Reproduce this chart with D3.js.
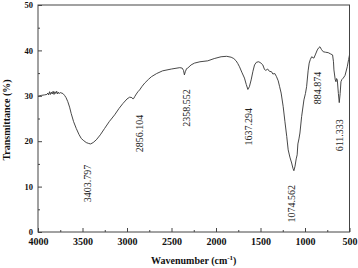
<!DOCTYPE html>
<html>
<head>
<meta charset="utf-8">
<script src="https://cdn.jsdelivr.net/npm/d3@7"></script>
<style>
    body { margin: 0; background: #fff; }
    svg { display: block; }
</style>
</head>
<body>
<svg class="ftir-chart" width="358" height="268"></svg>
<script>
// Spectrum (wavenumber cm-1, transmittance %)
const wavenumbers = [
    4000, 3960, 3927, 3900, 3890, 3880, 3870, 3860, 3850, 3840, 3830, 3820, 3810, 3800,
    3790, 3780, 3770, 3760, 3750, 3720, 3702, 3685, 3665, 3645, 3627, 3600, 3570, 3540,
    3514, 3485, 3458, 3430, 3409, 3380, 3345, 3300, 3252, 3200, 3139, 3090, 3046, 3000,
    2970, 2945, 2933, 2925, 2914, 2895, 2877, 2858, 2830, 2801, 2760, 2726, 2667, 2600,
    2500, 2407, 2380, 2365, 2355, 2345, 2330, 2318, 2280, 2242, 2180, 2093, 2020, 1943,
    1880, 1830, 1800, 1774, 1755, 1736, 1710, 1680, 1660, 1642, 1625, 1605, 1585, 1567,
    1545, 1519, 1495, 1474, 1455, 1440, 1420, 1400, 1376, 1361, 1339, 1320, 1301, 1285,
    1268, 1245, 1226, 1205, 1189, 1170, 1150, 1135, 1125, 1112, 1099, 1088, 1080, 1068,
    1057, 1038, 1012, 995, 982, 965, 953, 940, 925, 910, 900, 885, 862, 845,
    832, 815, 795, 770, 739, 710, 690, 680, 675, 660, 652, 645, 637, 625,
    615, 605, 596, 585, 570, 550, 525, 510, 500
];
const transmittance = [
    29.9, 30.1, 30.2, 30.3, 30.6, 30.2, 30.9, 30.3, 30.8, 30.4, 31.0, 30.3, 30.9, 30.5,
    31.0, 30.4, 30.8, 30.5, 30.7, 30.5, 30.1, 29.6, 28.7, 27.5, 26.1, 24.3, 22.8, 21.5,
    20.6, 20.1, 19.7, 19.5, 19.4, 19.7, 20.3, 21.4, 22.8, 24.3, 25.8, 27.2, 28.3, 29.3,
    29.7, 29.6, 29.3, 29.4, 29.8, 30.4, 30.9, 31.3, 32.1, 32.8, 33.6, 34.2, 34.9, 35.5,
    35.9, 36.2, 36.1, 35.6, 34.6, 35.3, 36.0, 36.1, 36.8, 37.2, 37.5, 37.7, 38.2, 38.6,
    38.7, 38.5, 38.2, 37.7, 37.1, 36.4, 35.2, 33.9, 32.5, 31.4, 32.0, 33.5, 35.4, 36.8,
    37.4, 37.5, 37.2, 36.8, 35.8, 35.6, 35.9, 35.4, 35.3, 34.8, 34.9, 34.2, 33.3, 32.0,
    30.6, 27.6, 24.4, 21.0, 18.1, 16.5, 15.2, 14.0, 13.5, 14.5, 16.1, 17.0, 19.4, 20.5,
    21.8, 25.4, 29.1, 30.5, 32.0, 35.5, 37.2, 38.0, 38.6, 38.4, 38.3, 39.0, 40.1, 40.6,
    40.8, 40.2, 39.7, 39.6, 39.5, 39.2, 39.0, 37.5, 35.7, 33.5, 33.1, 33.8, 33.5, 30.5,
    28.5, 30.5, 33.1, 33.6, 33.9, 34.5, 36.4, 38.0, 39.0
];

// Peak annotations: text, where it sits (wavenumber, transmittance of its centre)
const peakLabels = ["3403.797", "2856.104", "2358.552", "1637.294", "1074.562", "884.874", "611.333"];
const peakLabelX = [3440, 2858, 2337, 1639, 1155, 862, 610];
const peakLabelY = [10.7, 21.7, 27.3, 23.2, 6.2, 31.7, 21.3];

// Axis ticks
const xMajorTicks = [4000, 3500, 3000, 2500, 2000, 1500, 1000, 500];
const xMinorTicks = [3750, 3250, 2750, 2250, 1750, 1250, 750];
const yMajorTicks = [0, 10, 20, 30, 40, 50];
const yMinorTicks = [5, 15, 25, 35, 45];

const font_family = '"Liberation Serif", "Times New Roman", serif';

const svg = d3.select(".ftir-chart");
const margin = { top: 5, right: 8.5, bottom: 36, left: 38 };
const chartWidth = 358 - margin.left - margin.right;
const chartHeight = 268 - margin.top - margin.bottom;

const g = svg.append("g")
    .attr("transform", `translate(${margin.left},${margin.top})`);

// Scales (wavenumber runs right to left)
const x = d3.scaleLinear().domain([4000, 500]).range([0, chartWidth]);
const y = d3.scaleLinear().domain([0, 50]).range([chartHeight, 0]);

// Spectrum line
const points = wavenumbers.map((w, i) => ({ w, t: transmittance[i] }));
g.append("path")
    .datum(points)
    .attr("fill", "none")
    .attr("stroke", "#333")
    .attr("stroke-width", 0.9)
    .attr("stroke-linejoin", "round")
    .attr("d", d3.line().x(d => x(d.w)).y(d => y(d.t)));

// Axes, ticks pointing inward
function styleAxis(sel) {
    sel.select(".domain").remove();
    sel.selectAll("line").attr("stroke", "#444");
    sel.selectAll("text")
        .attr("fill", "#111")
        .style("font-family", font_family)
        .style("font-weight", "bold");
}

g.append("g")
    .attr("transform", `translate(0,${chartHeight})`)
    .call(d3.axisBottom(x).tickValues(xMajorTicks).tickSize(-4).tickPadding(6).tickFormat(d3.format("d")))
    .call(styleAxis)
    .selectAll("text").style("font-size", "10px");

g.append("g")
    .attr("transform", `translate(0,${chartHeight})`)
    .call(d3.axisBottom(x).tickValues(xMinorTicks).tickSize(-2).tickFormat(""))
    .call(styleAxis);

g.append("g")
    .call(d3.axisLeft(y).tickValues(yMajorTicks).tickSize(-4).tickPadding(5))
    .call(styleAxis)
    .selectAll("text").style("font-size", "8.5px");

g.append("g")
    .call(d3.axisLeft(y).tickValues(yMinorTicks).tickSize(-2).tickFormat(""))
    .call(styleAxis);

// Frame
g.append("rect")
    .attr("width", chartWidth)
    .attr("height", chartHeight)
    .attr("fill", "none")
    .attr("stroke", "#444")
    .attr("stroke-width", 1);

// Peak labels (rotated)
g.selectAll(".peak-label")
    .data(peakLabels)
    .enter()
    .append("text")
    .attr("class", "peak-label")
    .attr("transform", (d, i) => `translate(${x(peakLabelX[i])},${y(peakLabelY[i])}) rotate(-90)`)
    .attr("text-anchor", "middle")
    .attr("dominant-baseline", "central")
    .attr("fill", "#222")
    .style("font-family", font_family)
    .style("font-size", "10px")
    .text(d => d);

// Axis titles
const xTitle = svg.append("text")
    .attr("x", margin.left + chartWidth / 2)
    .attr("y", 264)
    .attr("text-anchor", "middle")
    .attr("fill", "#111")
    .style("font-family", font_family)
    .style("font-size", "10px")
    .style("font-weight", "bold");
xTitle.append("tspan").text("Wavenumber (cm");
xTitle.append("tspan").attr("dy", -4).style("font-size", "7px").text("-1");
xTitle.append("tspan").attr("dy", 4).text(")");

svg.append("text")
    .attr("transform", `translate(6.5,${margin.top + 115}) rotate(-90)`)
    .attr("text-anchor", "middle")
    .attr("dominant-baseline", "central")
    .attr("fill", "#111")
    .style("font-family", font_family)
    .style("font-size", "10px")
    .style("font-weight", "bold")
    .text("Transmittance (%)");
</script>
</body>
</html>
